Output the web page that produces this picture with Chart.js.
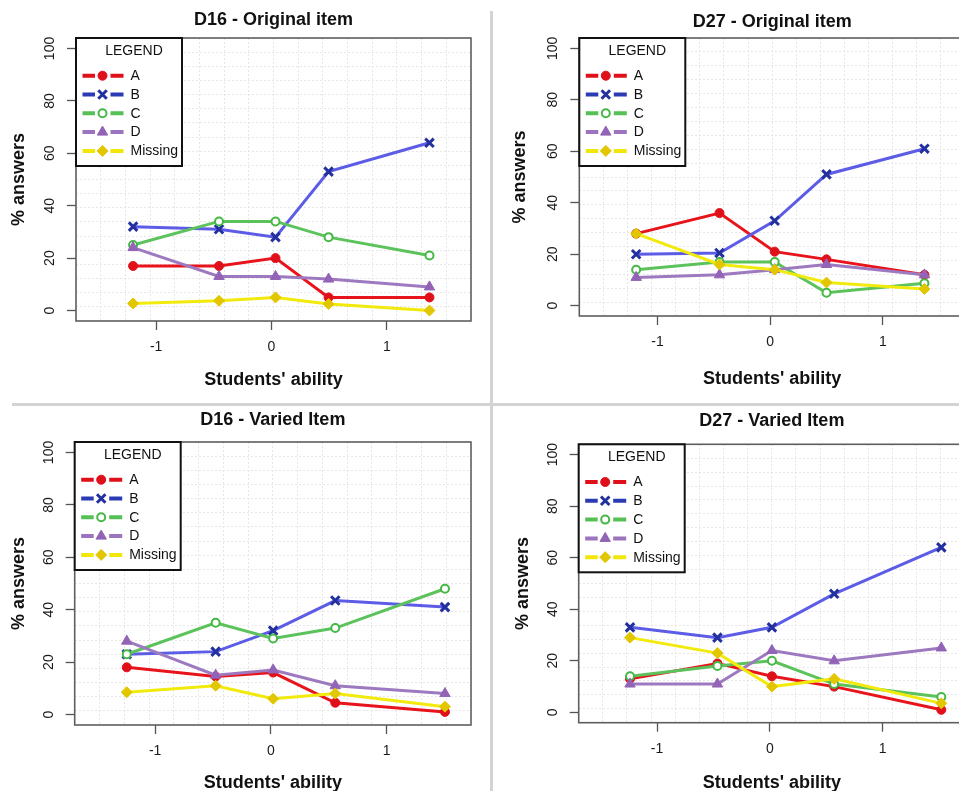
<!DOCTYPE html>
<html><head><meta charset="utf-8">
<script src="https://cdn.jsdelivr.net/npm/chart.js@4/dist/chart.umd.min.js"></script>
<style>
html,body{margin:0;padding:0;background:#fff;overflow:hidden;width:959px;height:791px;}
canvas{position:absolute;}
.vline{position:absolute;left:490px;top:11px;width:3px;height:780px;background:#d3d3d3;}
.hline{position:absolute;left:12px;top:403px;width:947px;height:3px;background:#d3d3d3;}
</style></head><body>
<div class="vline"></div><div class="hline"></div>
<canvas id="c1"></canvas><canvas id="c2"></canvas><canvas id="c3"></canvas><canvas id="c4"></canvas>
<script>
// ---------- data ----------
const seriesLabels = ['A', 'B', 'C', 'D', 'Missing'];
const yTickValues = [0, 20, 40, 60, 80, 100];
const xTickValues = [-1, 0, 1];
const panelTitles = ['D16 - Original item', 'D27 - Original item', 'D16 - Varied Item', 'D27 - Varied Item'];
const xAxisTitle = "Students' ability";
const yAxisTitle = '% answers';

const abilityD16Original = [-1.20, -0.455, 0.035, 0.495, 1.37];
const d16OriginalA = [17, 17, 20, 5, 5];
const d16OriginalB = [32, 31, 28, 53, 64];
const d16OriginalC = [25, 34, 34, 28, 21];
const d16OriginalD = [24, 13, 13, 12, 9];
const d16OriginalMissing = [2.7, 3.7, 5, 2.5, 0];

const abilityD27Original = [-1.19, -0.45, 0.04, 0.50, 1.37];
const d27OriginalA = [28, 36, 21, 18, 12];
const d27OriginalB = [20, 20.5, 33, 51, 61];
const d27OriginalC = [14, 17, 17, 5, 8.7];
const d27OriginalD = [11, 12, 14, 16, 12];
const d27OriginalMissing = [28, 16, 14, 9, 6.5];

const abilityD16Varied = [-1.245, -0.477, 0.02, 0.557, 1.505];
const d16VariedA = [18, 14.5, 16, 4.5, 1];
const d16VariedB = [23, 24, 32, 43.5, 41];
const d16VariedC = [23, 35, 29, 33, 48];
const d16VariedD = [28, 15, 17, 11, 8];
const d16VariedMissing = [8.5, 11, 6, 8, 3];

const abilityD27Varied = [-1.24, -0.465, 0.018, 0.57, 1.52];
const d27VariedA = [13, 19, 14, 10, 1];
const d27VariedB = [33, 29, 33, 46, 64];
const d27VariedC = [14, 18, 20, 11, 6];
const d27VariedD = [11, 11, 24, 20, 25];
const d27VariedMissing = [29, 23, 10, 13, 3.5];

// ---------- styles / layout ----------
const FONT = "'Liberation Sans', Arial, Helvetica, sans-serif";
const X_MIN = -1.695, X_MAX = 1.73, Y_MIN = -4, Y_MAX = 104;
const seriesStyle = [
  {line:'#e8141c', legendLine:'#e0101a', point:'#e0101a', fill:'#e0101a', style:'circle',   r:4.5, bw:1},
  {line:'#5c5ce6', legendLine:'#2b3bb3', point:'#23309f', fill:'#23309f', style:'crossRot', r:6,   bw:3},
  {line:'#5cc35c', legendLine:'#55c055', point:'#45b845', fill:'#ffffff', style:'circle',   r:4,   bw:2},
  {line:'#9d79c0', legendLine:'#9b74bd', point:'#9263b6', fill:'#9263b6', style:'triangle', r:6,   bw:1},
  {line:'#f2ea0c', legendLine:'#f3e60a', point:'#e2c600', fill:'#e2c600', style:'rectRot',  r:5.5, bw:1}
];
const panels = [
  {id:'c1', title:panelTitles[0], ability:abilityD16Original,
   values:[d16OriginalA, d16OriginalB, d16OriginalC, d16OriginalD, d16OriginalMissing],
   ox:0, oy:0, W:480, H:400, g:{L:76, R:472, T:38, B:321, titleY:20.5, yTitleX:19.5, xTitleY:380}},
  {id:'c2', title:panelTitles[1], ability:abilityD27Original,
   values:[d27OriginalA, d27OriginalB, d27OriginalC, d27OriginalD, d27OriginalMissing],
   ox:494, oy:0, W:480, H:400, g:{L:579.3, R:970.5, T:38, B:316, titleY:22, yTitleX:520, xTitleY:379}},
  {id:'c3', title:panelTitles[2], ability:abilityD16Varied,
   values:[d16VariedA, d16VariedB, d16VariedC, d16VariedD, d16VariedMissing],
   ox:0, oy:407, W:480, H:400, g:{L:74.7, R:472.7, T:442, B:725, titleY:419.8, yTitleX:19, xTitleY:783.5}},
  {id:'c4', title:panelTitles[3], ability:abilityD27Varied,
   values:[d27VariedA, d27VariedB, d27VariedC, d27VariedD, d27VariedMissing],
   ox:494, oy:407, W:480, H:400, g:{L:578.7, R:970, T:444.3, B:722.7, titleY:421.2, yTitleX:523, xTitleY:782.7}}
];

function drawMarker(ctx, st, x, y) {
  ctx.save();
  ctx.fillStyle = st.fill; ctx.strokeStyle = st.point; ctx.lineWidth = st.bw;
  if (Chart.helpers && Chart.helpers.drawPoint) {
    Chart.helpers.drawPoint(ctx, {pointStyle: st.style, radius: st.r, rotation: 0, borderWidth: st.bw}, x, y);
  } else {
    ctx.beginPath(); ctx.arc(x, y, st.r, 0, Math.PI * 2); ctx.fill(); ctx.stroke();
  }
  ctx.restore();
}

const boxPlugin = {
  id: 'rbox',
  afterDraw(chart) {
    const ca = chart.chartArea, ctx = chart.ctx;
    ctx.save();
    ctx.strokeStyle = '#5e5e5e'; ctx.lineWidth = 1.6;
    ctx.strokeRect(ca.left, ca.top, ca.right - ca.left, ca.bottom - ca.top);
    ctx.restore();
  }
};
const legendPlugin = {
  id: 'rlegend',
  afterDraw(chart) {
    const ca = chart.chartArea, ctx = chart.ctx;
    const x0 = ca.left, y0 = ca.top, w = 106, h = 128;
    ctx.save();
    ctx.fillStyle = '#fff'; ctx.fillRect(x0, y0, w, h);
    ctx.strokeStyle = '#111'; ctx.lineWidth = 2; ctx.strokeRect(x0, y0, w, h);
    ctx.fillStyle = '#111'; ctx.font = '14px ' + FONT; ctx.textAlign = 'center'; ctx.textBaseline = 'middle';
    ctx.fillText('LEGEND', x0 + 58, y0 + 13);
    chart.data.datasets.forEach((ds, i) => {
      const st = seriesStyle[i];
      const yy = y0 + 37.7 + i * 18.8;
      ctx.strokeStyle = st.legendLine; ctx.lineWidth = 4; ctx.lineCap = 'butt';
      ctx.beginPath(); ctx.moveTo(x0 + 6.5, yy); ctx.lineTo(x0 + 19, yy);
      ctx.moveTo(x0 + 34.5, yy); ctx.lineTo(x0 + 47.5, yy); ctx.stroke();
      drawMarker(ctx, st, x0 + 26.5, yy);
      ctx.fillStyle = '#111'; ctx.textAlign = 'left'; ctx.font = '14px ' + FONT;
      ctx.fillText(ds.label, x0 + 54.5, yy + 0.5);
    });
    ctx.restore();
  }
};

const LH = 18 * 1.2;
panels.forEach(p => {
  const cv = document.getElementById(p.id);
  cv.width = p.W; cv.height = p.H;
  cv.style.left = p.ox + 'px'; cv.style.top = p.oy + 'px';
  cv.style.width = p.W + 'px'; cv.style.height = p.H + 'px';
  const g = p.g;
  const padTop = g.titleY - LH / 2 - p.oy;
  const Ht = g.T - (g.titleY - LH / 2);
  const padLeft = g.yTitleX - LH / 2 - p.ox;
  const Wy = g.L - (g.yTitleX - LH / 2);
  const padRight = p.ox + p.W - g.R;
  const padBottom = p.oy + p.H - (g.xTitleY + LH / 2);
  const Hx = (g.xTitleY + LH / 2) - g.B;
  const titleFont = {size: 18, weight: 'bold', family: FONT};
  new Chart(cv, {
    type: 'line',
    data: {
      datasets: seriesLabels.map((lab, i) => {
        const st = seriesStyle[i];
        return {
          label: lab,
          data: p.ability.map((x, j) => ({x: x, y: p.values[i][j]})),
          borderColor: st.line, borderWidth: 3, tension: 0, fill: false,
          pointStyle: st.style, pointRadius: st.r, pointHoverRadius: st.r,
          pointBackgroundColor: st.fill, pointBorderColor: st.point, pointBorderWidth: st.bw,
          order: 5 - i
        };
      })
    },
    options: {
      responsive: false, animation: false, devicePixelRatio: 1, events: [],
      layout: {padding: {left: padLeft, top: padTop, right: padRight, bottom: padBottom}},
      plugins: {legend: {display: false}, tooltip: {enabled: false}, title: {display: false}},
      scales: {
        x: {
          type: 'linear', position: 'bottom', min: X_MIN, max: X_MAX,
          afterBuildTicks: s => { s.ticks = xTickValues.map(v => ({value: v})); },
          afterFit: s => { s.height = Hx; },
          ticks: {font: {size: 14, family: FONT}, color: '#1a1a1a', padding: 9, callback: v => String(v)},
          grid: {display: true, drawOnChartArea: false, drawTicks: true, tickLength: 9, tickColor: '#555', tickWidth: 1.3},
          border: {display: false},
          title: {display: true, text: xAxisTitle, font: titleFont, color: '#111', padding: 0}
        },
        y: {
          type: 'linear', position: 'left', min: Y_MIN, max: Y_MAX,
          afterBuildTicks: s => { s.ticks = yTickValues.map(v => ({value: v})); },
          afterFit: s => { s.width = Wy; },
          ticks: {font: {size: 14, family: FONT}, color: '#1a1a1a', padding: 5, minRotation: 90, maxRotation: 90, crossAlign: 'center', callback: v => String(v)},
          grid: {display: true, drawOnChartArea: false, drawTicks: true, tickLength: 9, tickColor: '#555', tickWidth: 1.3},
          border: {display: false},
          title: {display: true, text: yAxisTitle, font: titleFont, color: '#111', padding: 0}
        },
        t: {
          type: 'linear', position: 'top', min: X_MIN, max: X_MAX,
          afterFit: s => { s.height = Ht; },
          ticks: {display: false}, grid: {display: false}, border: {display: false},
          title: {display: true, text: p.title, font: titleFont, color: '#111', padding: 0}
        },
        gx: {
          type: 'linear', position: 'bottom', min: X_MIN, max: X_MAX,
          afterBuildTicks: s => { const a = []; for (let k = 1; k < 16; k++) a.push({value: X_MIN + k * (X_MAX - X_MIN) / 16}); s.ticks = a; },
          afterFit: s => { s.height = 0; },
          ticks: {display: false},
          grid: {display: true, drawOnChartArea: true, drawTicks: false, color: '#e6e6e6', lineWidth: 1},
          border: {display: false, dash: [2, 2]}
        },
        gy: {
          type: 'linear', position: 'left', min: Y_MIN, max: Y_MAX,
          afterBuildTicks: s => { const a = []; for (let k = 1; k < 20; k++) a.push({value: Y_MIN + k * (Y_MAX - Y_MIN) / 20}); s.ticks = a; },
          afterFit: s => { s.width = 0; },
          ticks: {display: false},
          grid: {display: true, drawOnChartArea: true, drawTicks: false, color: '#e6e6e6', lineWidth: 1},
          border: {display: false, dash: [2, 2]}
        }
      }
    },
    plugins: [boxPlugin, legendPlugin]
  });
});
</script>
</body></html>
